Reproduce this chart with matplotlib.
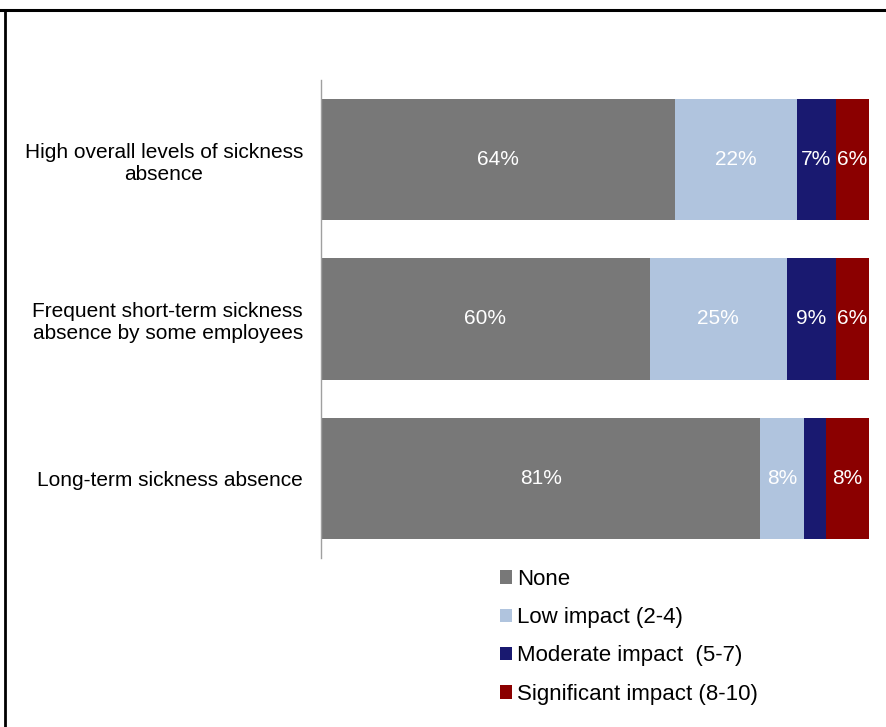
import numpy as np
import matplotlib
matplotlib.use('Agg')
import matplotlib.pyplot as plt
from matplotlib.lines import Line2D

plt.rcParams['font.family'] = ['Liberation Sans', 'DejaVu Sans']

# data
categories = ['High overall levels of sickness\nabsence',
              'Frequent short-term sickness\nabsence by some employees',
              'Long-term sickness absence']
series = ['None', 'Low impact (2-4)', 'Moderate impact  (5-7)',
          'Significant impact (8-10)']
none_vals = [64, 60, 81]
low_vals = [22, 25, 8]
moderate_vals = [7, 9, 4]
significant_vals = [6, 6, 8]
colors = ['#787878', '#B0C4DE', '#191970', '#8B0000']

values = np.array([none_vals, low_vals, moderate_vals, significant_vals], dtype=float)
totals = values.sum(axis=0)
shares = values / totals * 100.0

fig = plt.figure(figsize=(8.86, 7.27), dpi=100)
ax = fig.add_axes([0.3623, 0.2325, 0.6185, 0.6575])

ypos = np.arange(len(categories))
left = np.zeros(len(categories))
handles = []
for i, name in enumerate(series):
    bars = ax.barh(ypos, shares[i], left=left, height=0.76,
                   color=colors[i], edgecolor='none', label=name)
    for j, b in enumerate(bars):
        v = values[i][j]
        if v >= 5:
            ax.text(left[j] + shares[i][j] / 2, ypos[j], '%d%%' % v,
                    ha='center', va='center', color='white', fontsize=15)
    left = left + shares[i]
    handles.append(bars)

ax.set_xlim(0, 100)
ax.set_ylim(len(categories) - 0.5, -0.5)
ax.set_yticks(ypos)
ax.set_yticklabels(categories, fontsize=15, multialignment='center')
ax.tick_params(axis='y', length=0, pad=13)
ax.set_xticks([])
for s in ['top', 'right', 'bottom']:
    ax.spines[s].set_visible(False)
ax.spines['left'].set_color('#A0A0A0')
ax.spines['left'].set_linewidth(1.0)

leg = fig.legend(handles, series, loc='upper left',
                 bbox_to_anchor=(0.547, 0.239), frameon=False,
                 fontsize=16, handlelength=0.55, handleheight=0.55,
                 handletextpad=0.2, labelspacing=0.78, borderpad=0.2)

# outer frame (top and left only visible)
fig.add_artist(Line2D([0, 1], [1 - 10 / 727.0, 1 - 10 / 727.0],
                      transform=fig.transFigure, color='black', lw=2.2))
fig.add_artist(Line2D([5 / 886.0, 5 / 886.0], [0, 1 - 10 / 727.0],
                      transform=fig.transFigure, color='black', lw=2.0))

fig.savefig('out.png', dpi=100)
